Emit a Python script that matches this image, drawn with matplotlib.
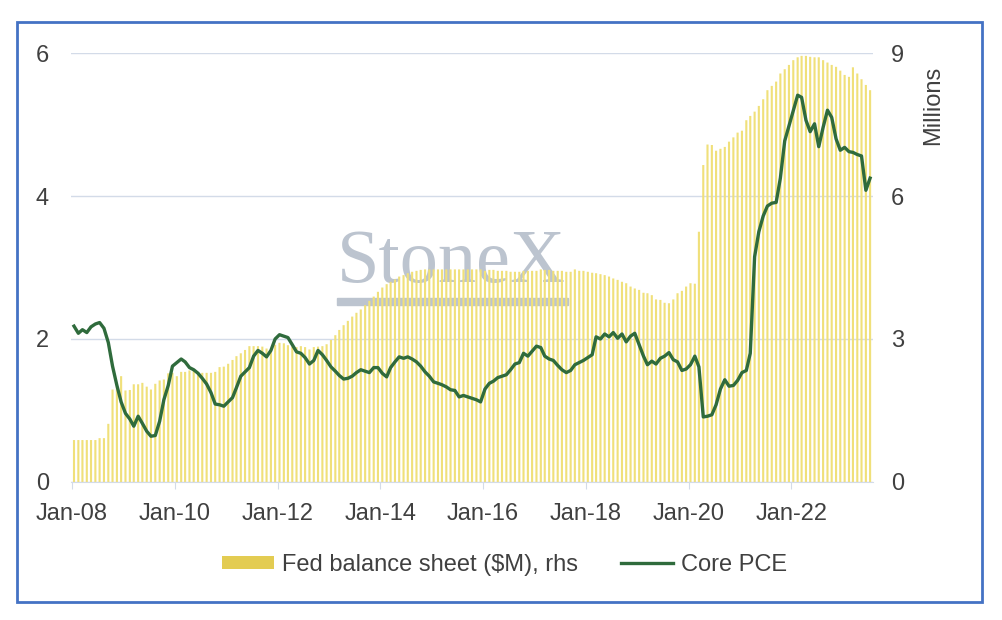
import numpy as np
import pandas as pd
import matplotlib
matplotlib.use('Agg')
import matplotlib.pyplot as plt
import matplotlib.dates as mdates
from matplotlib.patches import Patch, Rectangle
from matplotlib.lines import Line2D

plt.rcParams['font.family'] = ['Liberation Sans', 'DejaVu Sans']

# monthly, Jan-2008 .. Jul-2023
months = pd.date_range('2008-01-01', periods=187, freq='MS') + pd.Timedelta(days=14)

# Fed balance sheet, millions of $M (rhs)
fed_bs = [
    0.88, 0.88, 0.88, 0.88, 0.88, 0.88, 0.92, 0.92, 1.22, 1.94, 2.00, 2.22,  # 2008
    1.92, 1.93, 2.05, 2.05, 2.08, 2.00, 1.94, 2.06, 2.13, 2.15, 2.28, 2.29,  # 2009
    2.22, 2.31, 2.31, 2.34, 2.34, 2.31, 2.29, 2.29, 2.29, 2.31, 2.41, 2.42,  # 2010
    2.48, 2.56, 2.64, 2.70, 2.77, 2.85, 2.85, 2.85, 2.84, 2.80, 2.77, 2.88,  # 2011
    2.92, 2.91, 2.87, 2.84, 2.83, 2.85, 2.83, 2.78, 2.83, 2.84, 2.85, 2.89,  # 2012
    2.98, 3.08, 3.19, 3.29, 3.38, 3.47, 3.55, 3.62, 3.71, 3.80, 3.89, 3.99,  # 2013
    4.08, 4.15, 4.20, 4.25, 4.31, 4.34, 4.38, 4.41, 4.43, 4.45, 4.46, 4.46,  # 2014
    4.46, 4.46, 4.46, 4.46, 4.46, 4.46, 4.46, 4.46, 4.46, 4.46, 4.46, 4.46,  # 2015
    4.43, 4.45, 4.45, 4.43, 4.43, 4.43, 4.41, 4.41, 4.41, 4.43, 4.43, 4.43,  # 2016
    4.43, 4.46, 4.45, 4.45, 4.43, 4.43, 4.43, 4.41, 4.41, 4.46, 4.43, 4.43,  # 2017
    4.41, 4.39, 4.38, 4.36, 4.34, 4.31, 4.27, 4.24, 4.20, 4.17, 4.10, 4.06,  # 2018
    4.03, 3.97, 3.96, 3.92, 3.83, 3.82, 3.76, 3.75, 3.83, 3.96, 4.01, 4.10,  # 2019
    4.17, 4.16, 5.25, 6.65, 7.08, 7.07, 6.95, 6.99, 7.03, 7.14, 7.23, 7.33,  # 2020
    7.37, 7.59, 7.68, 7.77, 7.89, 8.03, 8.22, 8.31, 8.40, 8.57, 8.66, 8.75,  # 2021
    8.85, 8.91, 8.94, 8.94, 8.92, 8.91, 8.91, 8.85, 8.80, 8.75, 8.71, 8.63,  # 2022
    8.54, 8.50, 8.70, 8.57, 8.45, 8.33, 8.22,                                # 2023
]

# Core PCE, % y/y (lhs)
core_pce = [
    2.18, 2.08, 2.13, 2.09, 2.17, 2.21, 2.23, 2.15, 1.95, 1.62, 1.35, 1.12,
    0.96, 0.88, 0.78, 0.92, 0.82, 0.71, 0.64, 0.65, 0.85, 1.15, 1.35, 1.62,
    1.67, 1.72, 1.68, 1.60, 1.57, 1.52, 1.45, 1.37, 1.25, 1.09, 1.08, 1.06,
    1.12, 1.18, 1.32, 1.48, 1.54, 1.60, 1.76, 1.84, 1.80, 1.75, 1.84, 2.00,
    2.06, 2.04, 2.02, 1.92, 1.82, 1.80, 1.74, 1.65, 1.70, 1.84, 1.78, 1.70,
    1.61, 1.55, 1.49, 1.44, 1.45, 1.48, 1.53, 1.57, 1.55, 1.53, 1.60, 1.60,
    1.52, 1.47, 1.60, 1.68, 1.75, 1.73, 1.75, 1.72, 1.68, 1.62, 1.54, 1.48,
    1.40, 1.38, 1.36, 1.33, 1.29, 1.28, 1.19, 1.21, 1.19, 1.17, 1.15, 1.12,
    1.30, 1.38, 1.41, 1.46, 1.48, 1.50, 1.57, 1.65, 1.67, 1.80, 1.76, 1.83,
    1.90, 1.88, 1.76, 1.72, 1.70, 1.63, 1.57, 1.53, 1.56, 1.64, 1.67, 1.70,
    1.74, 1.78, 2.03, 2.00, 2.07, 2.03, 2.09, 2.01, 2.07, 1.96, 2.04, 2.08,
    1.92, 1.76, 1.64, 1.69, 1.65, 1.73, 1.76, 1.81, 1.71, 1.68, 1.56, 1.58,
    1.64, 1.76, 1.61, 0.91, 0.92, 0.94, 1.08, 1.30, 1.43, 1.34, 1.35, 1.42,
    1.53, 1.56, 1.80, 3.15, 3.50, 3.72, 3.86, 3.90, 3.91, 4.25, 4.77, 4.98,
    5.20, 5.41, 5.38, 5.06, 4.90, 5.01, 4.69, 4.96, 5.20, 5.10, 4.80, 4.64,
    4.68, 4.62, 4.61, 4.58, 4.56, 4.08, 4.25,
]

bar_col = '#F0E07A'
line_col = '#2F6B3C'
grid_col = '#D3DBE8'
txt_col = '#404040'
fs = 17

fig = plt.figure(figsize=(10.02, 6.2), dpi=100)
ax = fig.add_axes([0.0709, 0.2226, 0.8004, 0.6919])
ax2 = ax.twinx()
ax.set_zorder(ax2.get_zorder() + 1)
ax.patch.set_visible(False)

# bars on the right axis
ax2.bar(months, fed_bs, width=15, color=bar_col, lw=0, snap=False, zorder=2)
ax2.set_ylim(0, 9)
ax2.set_yticks([0, 3, 6, 9])
ax2.yaxis.grid(True, color=grid_col, lw=1)
ax2.set_axisbelow(True)
for s in ax2.spines.values():
    s.set_visible(False)
ax2.tick_params(axis='y', length=0, pad=13, labelsize=fs, labelcolor=txt_col)

# watermark behind the bars
wm = '#BCC4CF'
ax2.text(337 / 1002, 1 - 282 / 620, 'StoneX', transform=fig.transFigure,
         fontsize=55, family='Liberation Serif', color=wm, zorder=1,
         ha='left', va='baseline')
ax2.add_artist(Rectangle((337 / 1002, 1 - 305 / 620), 231 / 1002, 7 / 620,
                         transform=fig.transFigure, color=wm, zorder=1))

# core PCE line on the left axis
ax.plot(months, core_pce, color=line_col, lw=2.4, zorder=3)
ax.set_ylim(0, 6)
ax.set_yticks([0, 2, 4, 6])
ax.set_xlim(pd.Timestamp('2007-12-25'), pd.Timestamp('2023-08-05'))
ax.xaxis.set_major_locator(mdates.YearLocator(2))
ax.xaxis.set_major_formatter(mdates.DateFormatter('%b-%y'))
for side in ['top', 'left', 'right']:
    ax.spines[side].set_visible(False)
ax.spines['bottom'].set_color(grid_col)
ax.tick_params(axis='y', length=0, pad=16, labelsize=fs, labelcolor=txt_col)
ax.tick_params(axis='x', length=5, color=grid_col, pad=10, labelsize=fs,
               labelcolor=txt_col)

fig.text(933 / 1002, 1 - 105 / 620, 'Millions', rotation=90, fontsize=fs,
         color=txt_col, ha='center', va='center')

handles = [Patch(facecolor='#E3CC52', label='Fed balance sheet ($M), rhs'),
           Line2D([], [], color=line_col, lw=2.4, label='Core PCE')]
fig.legend(handles=handles, loc='center', bbox_to_anchor=(0.5035, 0.089),
           ncol=2, frameon=False, fontsize=fs, handlelength=2.2,
           handleheight=0.5, handletextpad=0.35, columnspacing=1.8,
           labelcolor=txt_col)

# blue frame around the whole chart
fig.add_artist(Rectangle((17 / 1002, 1 - 602 / 620), 965 / 1002, 580 / 620,
                         transform=fig.transFigure, fill=False,
                         edgecolor='#4472C4', lw=2))

fig.savefig('out.png', dpi=100)
